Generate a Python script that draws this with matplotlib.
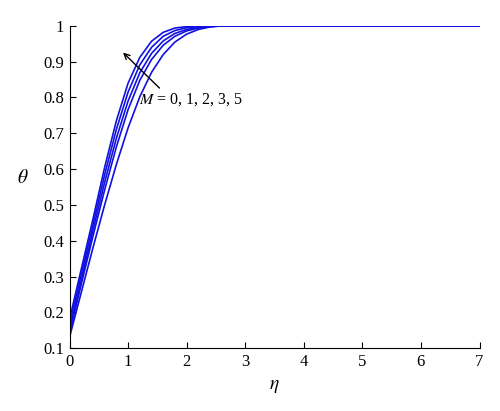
import numpy as np
import matplotlib
matplotlib.use("Agg")
import matplotlib.pyplot as plt

plt.rcParams['font.family'] = ['Liberation Serif', 'DejaVu Serif']
plt.rcParams['mathtext.fontset'] = 'stix'

# eta grid and theta profiles
eta = [0, 0.2, 0.4, 0.6, 0.8, 1.0, 1.2, 1.4, 1.6, 1.8, 2.0, 2.2, 2.4, 2.6, 3.0, 7.0]
theta_m0 = [0.13, 0.255, 0.38, 0.50, 0.613, 0.715, 0.802, 0.87, 0.92, 0.955, 0.977, 0.99, 0.997, 1.0, 1.0, 1.0]
theta_m1 = [0.14, 0.278, 0.412, 0.542, 0.662, 0.766, 0.848, 0.906, 0.946, 0.971, 0.986, 0.994, 0.998, 1.0, 1.0, 1.0]
theta_m2 = [0.15, 0.29, 0.428, 0.563, 0.686, 0.79, 0.869, 0.923, 0.958, 0.979, 0.99, 0.996, 0.999, 1.0, 1.0, 1.0]
theta_m3 = [0.165, 0.305, 0.444, 0.584, 0.711, 0.815, 0.891, 0.94, 0.971, 0.987, 0.995, 0.998, 0.999, 1.0, 1.0, 1.0]
theta_m5 = [0.18, 0.32, 0.46, 0.605, 0.735, 0.84, 0.912, 0.957, 0.982, 0.994, 0.998, 1.0, 1.0, 1.0, 1.0, 1.0]

fig = plt.figure(figsize=(5.0, 4.11), dpi=100)
ax = fig.add_axes([0.139, 0.153, 0.82, 0.784])

for th in [theta_m0, theta_m1, theta_m2, theta_m3, theta_m5]:
    ax.plot(eta, th, color='#1010e0', lw=1.2)

ax.set_xlim(0, 7)
ax.set_ylim(0.1, 1.0)
ax.set_xticks(range(0, 8))
ax.set_yticks(np.arange(0.1, 1.01, 0.1))
ax.set_yticklabels(['0.1', '0.2', '0.3', '0.4', '0.5', '0.6', '0.7', '0.8', '0.9', '1'])
ax.spines['top'].set_visible(False)
ax.spines['right'].set_visible(False)
ax.tick_params(direction='in', length=4, labelsize=12, pad=4)

ax.set_xlabel(r'$\eta$', fontsize=14, labelpad=6)
ax.set_ylabel(r'$\theta$', fontsize=14, rotation=0)
ax.yaxis.set_label_coords(-0.115, 0.5)

ax.annotate('', xy=(0.88, 0.931), xytext=(1.57, 0.821),
            arrowprops=dict(arrowstyle='->', color='black', lw=1.0))
ax.text(1.19, 0.795, r'$M$ = 0, 1, 2, 3, 5', fontsize=11.5, va='center')

fig.savefig('out.png', dpi=100)
